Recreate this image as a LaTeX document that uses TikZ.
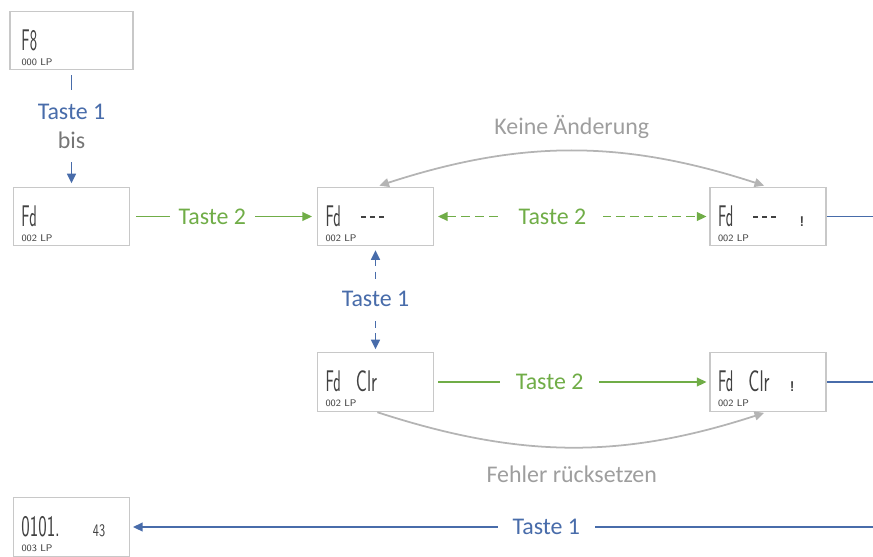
\documentclass[tikz,border=0pt]{standalone}
\usepackage{fontspec}
\setmainfont{Carlito}
\usetikzlibrary{arrows.meta,positioning}

\definecolor{tasteblue}{RGB}{72,108,170}
\definecolor{tastegreen}{RGB}{112,173,71}
\definecolor{arcgrey}{RGB}{180,180,180}
\definecolor{arctext}{RGB}{158,158,158}
\definecolor{bisgrey}{RGB}{118,118,118}
\definecolor{boxgrey}{RGB}{200,200,200}
\definecolor{lcdink}{RGB}{65,65,65}

% LCD look of the display boxes
\newcommand{\segbig}[2][0.52]{\scalebox{#1}[1]{\fontsize{17}{17}\selectfont\sffamily #2}}
\newcommand{\segtiny}[1]{\scalebox{0.7}[1]{\fontsize{10}{10}\selectfont\sffamily #1}}
\newcommand{\segsmall}[1]{{\fontsize{5.5}{6}\selectfont\sffamily #1}}
\newcommand{\segdashes}{\rule[5pt]{2.8pt}{0.7pt}\hspace{2.3pt}\rule[5pt]{2.8pt}{0.7pt}\hspace{2.3pt}\rule[5pt]{2.8pt}{0.7pt}}
\newcommand{\segmark}{{\fontsize{8}{8}\selectfont\sffamily\bfseries !}}
\newcommand{\lcdface}[2]{\parbox[b][1.0cm][b]{2.12cm}{\fontsize{10}{12}\selectfont\color{lcdink}
  \hspace*{0.06cm}#1\\[-3.5pt]\hspace*{0.06cm}\segsmall{#2}}}

\begin{document}
\begin{tikzpicture}[on grid, >={Triangle[length=5.5pt,width=5pt]},
  lcd/.style={draw=boxgrey, line width=0.6pt, fill=white, inner xsep=0.1cm, inner ysep=0.08cm},
  lbl/.style={fill=white, font=\fontsize{13.6}{16.4}\selectfont, inner ysep=1pt},
  blueline/.style={draw=tasteblue, line width=1.1pt},
  bluedash/.style={blueline, dash pattern=on 4pt off 3pt},
  greenline/.style={draw=tastegreen, line width=1.1pt},
  greendash/.style={greenline, dash pattern=on 5pt off 3pt},
  greyarc/.style={draw=arcgrey, line width=1pt}]
 \useasboundingbox (0,0) rectangle (17.46,-11.14);

 \node[lcd, inner xsep=0.17cm] (f8) at (1.43,-0.81) {\lcdface{\segbig{F8}}{000 LP}};
 \node[lcd] (fd) [below=3.52cm of f8] {\lcdface{\segbig{Fd}}{002 LP}};
 \node[lcd] (fdn) [right=6.08cm of fd] {\lcdface{\segbig{Fd}\hspace{0.4cm}\segdashes}{002 LP}};
 \node[lcd] (fdj) [right=7.85cm of fdn] {\lcdface{\segbig{Fd}\hspace{0.4cm}\segdashes\hspace{0.46cm}\segmark}{002 LP}};
 \node[lcd] (clr) [below=3.31cm of fdn] {\lcdface{\segbig{Fd}\hspace{0.3cm}\segbig[0.62]{Clr}}{002 LP}};
 \node[lcd] (clrj) [right=7.85cm of clr] {\lcdface{\segbig{Fd}\hspace{0.3cm}\segbig[0.62]{Clr}\hspace{0.4cm}\segmark}{002 LP}};
 \node[lcd] (endd) [below=6.21cm of fd] {\lcdface{\segbig[0.6]{0101.}\hspace{0.66cm}\segtiny{43}}{003 LP}};

 \coordinate (rx) at (17.47,0);

 \path[->]
 (f8) edge[blueline, shorten <=3pt, shorten >=2pt] node[lbl, pos=0.48, align=center, minimum height=1.44cm]
   {\textcolor{tasteblue}{Taste 1}\\\textcolor{bisgrey}{bis}} (fd)
 (fd) edge[greenline, shorten <=0.12cm, shorten >=0.1cm] node[lbl, pos=0.44, text=tastegreen, inner xsep=0.18cm] {Taste 2} (fdn)
 (fdn) edge[greendash, <->, shorten <=0.08cm, shorten >=0.06cm] node[lbl, pos=0.43, text=tastegreen, inner xsep=0.33cm] {Taste 2} (fdj)
 (fdn.north) edge[greyarc, <->, bend left=18, shorten <=0.08cm, shorten >=0.08cm] node[yshift=0.48cm, text=arctext, font=\fontsize{13.6}{16.4}\selectfont] {Keine Änderung} (fdj.north)
 (fdn) edge[bluedash, <->, shorten <=0.08cm, shorten >=0.06cm] node[lbl, text=tasteblue, minimum height=0.78cm] {Taste 1} (clr)
 (clr) edge[greenline, shorten <=0.08cm, shorten >=0.06cm] node[lbl, pos=0.42, text=tastegreen, inner xsep=0.32cm] {Taste 2} (clrj)
 (clr.south) edge[greyarc, bend right=18, shorten <=0.04cm, shorten >=0.08cm] node[yshift=-0.54cm, text=arctext, font=\fontsize{13.6}{16.4}\selectfont] {Fehler rücksetzen} (clrj.south);

 \draw[blueline] (fdj) -- (fdj -| rx) |- (clrj);
 \draw[blueline, ->, shorten >=0.06cm] (clrj -| rx) |- node[lbl, pos=0.72, text=tasteblue, inner xsep=0.3cm] {Taste 1} (endd);
\end{tikzpicture}
\end{document}
